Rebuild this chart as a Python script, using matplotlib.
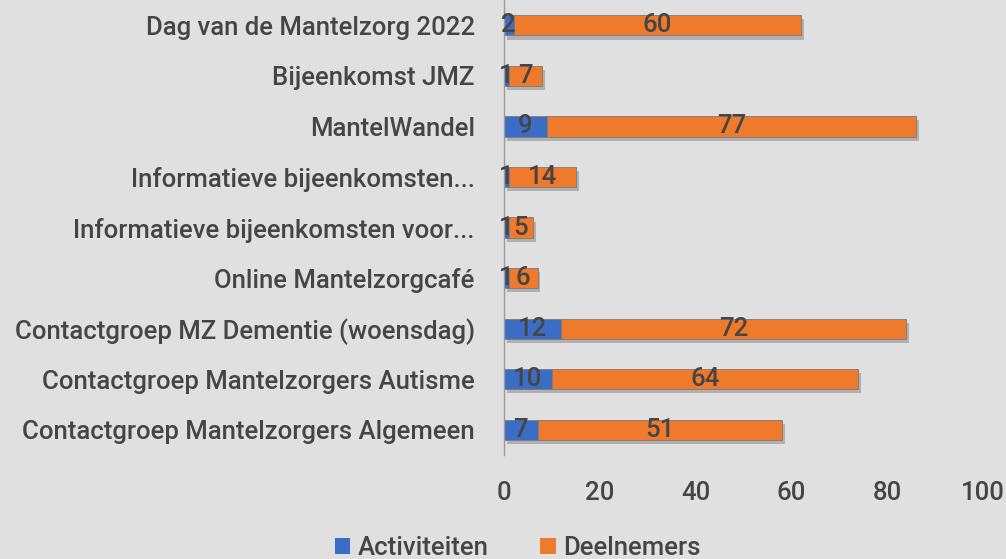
import matplotlib
matplotlib.use("Agg")
import matplotlib.pyplot as plt
import matplotlib.patheffects as pe

categories = [
    "Contactgroep Mantelzorgers Algemeen",
    "Contactgroep Mantelzorgers Autisme",
    "Contactgroep MZ Dementie (woensdag)",
    "Online Mantelzorgcafé",
    "Informatieve bijeenkomsten voor...",
    "Informatieve bijeenkomsten...",
    "MantelWandel",
    "Bijeenkomst JMZ",
    "Dag van de Mantelzorg 2022",
]
activiteiten = [7, 10, 12, 1, 1, 1, 9, 1, 2]
deelnemers = [51, 64, 72, 6, 5, 14, 77, 7, 60]
xticks = [0, 20, 40, 60, 80, 100]

BG = "#e0e0e0"
TXT = "#454545"
BLUE = "#3b6cc6"
ORANGE = "#ef7a2c"
FS = 18.5
FW = 'medium'

plt.rcParams['font.family'] = ['Roboto', 'DejaVu Sans']

fig = plt.figure(figsize=(10.06, 5.59), dpi=100, facecolor=BG)
ax = fig.add_axes([0.501, 0.186, 0.476, 0.814])
ax.set_facecolor(BG)

y = list(range(len(categories)))
shadow = [pe.SimplePatchShadow(offset=(2, -3), shadow_rgbFace='#8a8a8a', alpha=0.55), pe.Normal()]
b1 = ax.barh(y, activiteiten, height=0.4, color=BLUE, edgecolor='#7a7a7a', linewidth=0.6,
             label='Activiteiten', path_effects=shadow)
b2 = ax.barh(y, deelnemers, left=activiteiten, height=0.4, color=ORANGE, edgecolor='#7a7a7a',
             linewidth=0.6, label='Deelnemers', path_effects=shadow)

for i in y:
    a, d = activiteiten[i], deelnemers[i]
    ax.text(a / 2, i, str(a), ha='center', va='center', color=TXT, fontsize=FS, fontweight=FW)
    ax.text(a + d / 2, i, str(d), ha='center', va='center', color=TXT, fontsize=FS, fontweight=FW)

ax.set_xlim(0, 100)
ax.set_ylim(-0.5, len(categories) - 0.5)
ax.set_xticks(xticks)
ax.set_xticklabels([str(t) for t in xticks], fontweight=FW)
ax.set_yticks(y)
ax.set_yticklabels(categories, fontweight=FW)
ax.tick_params(axis='x', length=0, pad=19, labelsize=FS, labelcolor=TXT)
ax.tick_params(axis='y', length=0, pad=21, labelsize=FS, labelcolor=TXT)
for s in ['top', 'right', 'bottom']:
    ax.spines[s].set_visible(False)
ax.spines['left'].set_color('#9a9a9a')
ax.spines['left'].set_linewidth(1)

leg = fig.legend(handles=[b1, b2], labels=['Activiteiten', 'Deelnemers'], loc='center',
                 bbox_to_anchor=(0.515, 0.02), ncol=2, frameon=False,
                 prop={'size': FS, 'weight': FW},
                 handlelength=0.6, handleheight=0.6, handletextpad=0.3, columnspacing=2.0,
                 labelcolor=TXT)
for h in leg.legend_handles:
    h.set_path_effects([])
    h.set_edgecolor('none')

fig.savefig('out.png', dpi=100, facecolor=BG)
